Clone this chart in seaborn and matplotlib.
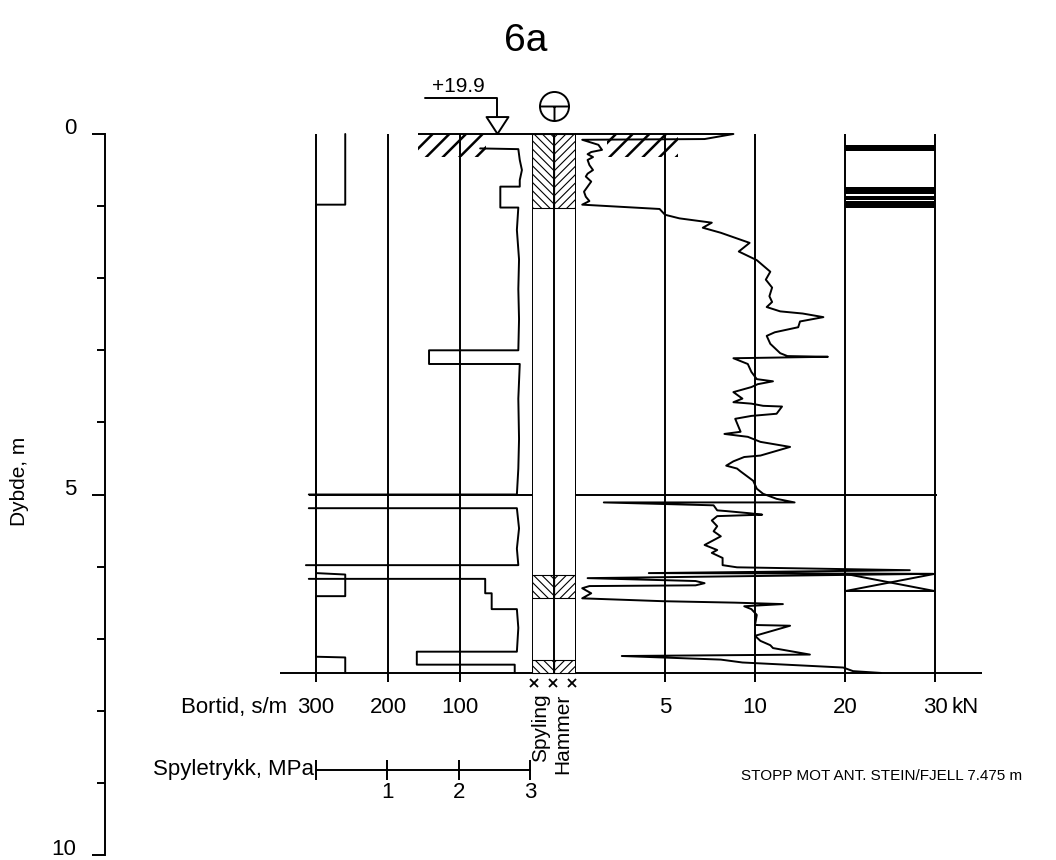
import numpy as np
import pandas as pd
import matplotlib
matplotlib.use("Agg")
import matplotlib.pyplot as plt
from matplotlib.path import Path
import seaborn as sns

# ---------------- data ----------------
title = "6a"
depth_major = [0, 5, 10]
depth_minor = [1, 2, 3, 4, 6, 7, 8, 9]
stop_depth = 7.475
stop_text = "STOPP MOT ANT. STEIN/FJELL 7.475 m"
ground_level_text = "+19.9"

bortid_grid = [300, 200, 100]
bortid_labels = ["300", "200", "100"]
kn_grid = [5, 10, 20, 30]
kn_labels = ["5", "10", "20", "30"]
pressure_ticks = [0, 1, 2, 3]
pressure_labels = ["", "1", "2", "3"]

# push force (kN) against depth (m)
kn_depth = [0.00, 0.07, 0.08, 0.15, 0.22, 0.25, 0.28, 0.32, 0.36, 0.43, 0.50,
            0.55, 0.59, 0.66, 0.73, 0.80, 0.87, 0.93, 0.98,
            1.04, 1.12, 1.17, 1.23, 1.30, 1.37, 1.51, 1.63, 1.75, 1.91, 2.02,
            2.13, 2.25, 2.33, 2.40, 2.46, 2.49, 2.54, 2.60, 2.68, 2.75, 2.80,
            2.91, 3.04, 3.08, 3.09, 3.11, 3.19, 3.30, 3.40, 3.43, 3.47, 3.51,
            3.58, 3.67, 3.72, 3.74, 3.77, 3.78, 3.88, 3.91, 3.95, 4.13, 4.16,
            4.20, 4.27, 4.34, 4.46, 4.48, 4.54, 4.60, 4.64, 4.68, 4.81, 4.92,
            4.99, 5.06, 5.11, 5.11, 5.15, 5.22, 5.23, 5.26, 5.28, 5.30, 5.36,
            5.44, 5.51, 5.58, 5.70, 5.77, 5.81, 5.88, 5.98, 6.01, 6.05, 6.09,
            6.10, 6.16, 6.20, 6.23, 6.26, 6.27, 6.30, 6.37, 6.44, 6.48, 6.50,
            6.52, 6.55, 6.59, 6.67, 6.81, 6.82, 6.96, 7.03, 7.09, 7.13, 7.22,
            7.24, 7.29, 7.33, 7.40, 7.45, 7.475]
kn_force = [8.8, 7.2, 0.4, 1.3, 1.5, 0.9, 0.7, 1.0, 0.7, 0.8, 1.0,
            0.7, 0.6, 0.9, 0.7, 0.5, 0.6, 0.8, 0.4,
            4.7, 5.0, 5.8, 7.6, 7.1, 8.1, 9.7, 9.1, 10.2, 11.7, 11.2,
            11.9, 11.6, 11.9, 11.3, 12.8, 15.3, 17.6, 15.0, 14.8, 12.2, 11.3,
            11.7, 12.8, 13.6, 18.1, 8.8, 9.6, 9.8, 10.2, 12.0, 10.3, 9.8,
            8.8, 9.3, 8.8, 9.8, 10.9, 13.0, 12.4, 9.8, 8.9, 9.2, 8.3,
            9.6, 10.6, 13.9, 10.6, 9.4, 8.8, 8.4, 9.0, 9.2, 9.9, 10.2,
            10.9, 12.4, 14.4, 1.6, 7.7, 7.9, 8.4, 9.7, 10.8, 7.9, 7.6,
            7.9, 7.7, 8.1, 7.2, 7.9, 7.6, 8.2, 8.2, 9.0, 27.2, 4.1,
            29.8, 0.7, 6.7, 7.2, 6.7, 0.8, 0.4, 0.9, 0.4, 4.9, 8.9,
            13.1, 9.4, 9.8, 10.2, 10.0, 13.9, 10.0, 10.6, 11.7, 12.0, 16.1,
            2.6, 8.1, 9.3, 19.8, 20.9, 24.0]

# drilling time (s/m) against depth (m); segments split where off scale
bortid_depth = [0.20, 0.21, 0.36, 0.50, 0.64, 0.73, 0.73, 1.02, 1.02, 1.33,
                1.74, 2.15, 2.57, 3.00, 3.00, 3.19, 3.19, 3.67, 4.23, 4.64,
                5.00, 5.00,
                5.19, 5.19, 5.47, 5.75, 5.98, 5.98,
                6.17, 6.17, 6.37, 6.37, 6.59, 6.59, 6.85, 7.18, 7.18, 7.36,
                7.36, 7.475]
bortid_value = [72, 19, 17, 14, 17, 17, 44, 44, 19, 21,
                18, 19, 18, 19, 143, 143, 17, 19, 18, 19,
                21, 310,
                310, 21, 18, 21, 19, 314,
                310, 65, 65, 56, 56, 21, 19, 21, 160, 160,
                24, 24]
bortid_segment = [1] * 22 + [2] * 6 + [3] * 12

# flushing pressure (MPa) against depth (m)
pressure_depth = [0.0, 0.98, 0.98, 6.09, 6.11, 6.41, 6.41, 7.25, 7.26, 7.475]
pressure_value = [0.41, 0.41, 0.0, 0.0, 0.41, 0.41, 0.0, 0.0, 0.41, 0.41]

flush_hammer_intervals = [(0.0, 1.02), (6.12, 6.44), (7.29, 7.475)]
rotation_bars = [(0.15, 0.24), (0.74, 0.83), (0.86, 0.91), (0.93, 1.03)]
cross_box = (6.10, 6.34)
marker_line_depth = 5.0

# ---------------- style ----------------
sns.set_theme(style="white")
plt.rcParams["font.family"] = ["Liberation Sans", "DejaVu Sans"]
plt.rcParams["text.color"] = "black"
plt.rcParams["xtick.color"] = "black"
plt.rcParams["ytick.color"] = "black"

LW = 1.4
K = "black"
W, H = 1056, 860
fig = plt.figure(figsize=(W / 100, H / 100), dpi=100)
fig.patch.set_facecolor("white")


def box(x0, x1, y0=134, y1=855):
    return [x0 / W, 1 - y1 / H, (x1 - x0) / W, (y1 - y0) / H]


ax_d = fig.add_axes(box(105, 990))
ax_bt = fig.add_axes(box(316, 532))
ax_pr = fig.add_axes(box(316, 530))
ax_sh = fig.add_axes(box(532, 576))
ax_kn = fig.add_axes(box(575, 935))
ax_pa = fig.add_axes([316 / W, 1 - 770 / H, 214 / W, 0.0005])

for ax in (ax_d, ax_bt, ax_pr, ax_sh, ax_kn):
    ax.set_ylim(10, 0)
    ax.patch.set_alpha(0)

# depth axis
ax_d.set_xlim(0, 1)
for s in ("top", "right", "bottom"):
    ax_d.spines[s].set_visible(False)
ax_d.spines["left"].set_linewidth(LW)
ax_d.spines["left"].set_color(K)
ax_d.set_xticks([])
ax_d.set_yticks(depth_major)
ax_d.set_yticklabels([str(v) for v in depth_major], va="baseline")
ax_d.set_yticks(depth_minor, minor=True)
ax_d.tick_params(axis="y", which="major", direction="out", length=9.5,
                 width=LW, pad=11, labelsize=16, left=True)
ax_d.tick_params(axis="y", which="minor", direction="out", length=6,
                 width=LW, left=True)
fig.text(20 / W, 1 - 481 / H, "Dybde, m", rotation=90, ha="center",
         va="center", fontsize=15)

# kN axis: 0-10 linear, 10-30 at half scale
def fwd(v):
    v = np.asarray(v, dtype=float)
    return np.where(v <= 10, v, 10 + (v - 10) / 2)


def inv(u):
    u = np.asarray(u, dtype=float)
    return np.where(u <= 10, u, 10 + (u - 10) * 2)


ax_kn.set_xscale("function", functions=(fwd, inv))

# ---------------- traces ----------------
df_kn = pd.DataFrame({"depth": kn_depth, "kN": kn_force})
sns.lineplot(data=df_kn, x="kN", y="depth", sort=False, estimator=None,
             color=K, lw=LW, ax=ax_kn)

df_bt = pd.DataFrame({"depth": bortid_depth, "bortid": bortid_value,
                      "seg": bortid_segment})
sns.lineplot(data=df_bt, x="bortid", y="depth", units="seg", sort=False,
             estimator=None, color=K, lw=LW, ax=ax_bt)

df_pr = pd.DataFrame({"depth": pressure_depth, "p": pressure_value})
sns.lineplot(data=df_pr, x="p", y="depth", sort=False, estimator=None,
             color=K, lw=LW, ax=ax_pr)

ax_bt.set_xlim(300, 0)
ax_pr.set_xlim(0, 3)
ax_sh.set_xlim(0, 2)
ax_kn.set_xlim(0, 30)
for ax in (ax_bt, ax_pr, ax_sh, ax_kn):
    ax.set_ylim(10, 0)
    for ln in ax.lines:
        ln.set_clip_on(False)

# ---------------- grid and frames ----------------
ax_bt.vlines(bortid_grid, 0, 7.6, color=K, lw=LW, clip_on=False)
ax_sh.vlines([0, 1, 2], 0, stop_depth, color=K, lw=LW)
ax_kn.vlines([0], 0, stop_depth, color=K, lw=LW)
ax_kn.vlines(kn_grid, 0, 7.6, color=K, lw=LW, clip_on=False)

# ground surface
ax_bt.hlines(0, 158, 0, color=K, lw=LW, clip_on=False)
ax_sh.hlines(0, 0, 2, color=K, lw=LW, clip_on=False)
ax_kn.hlines(0, 0, kn_force[0], color=K, lw=LW, clip_on=False)
with plt.rc_context({"hatch.linewidth": 1.8}):
    ax_bt.fill_betweenx([0, 0.32], 158, 64, facecolor="none", edgecolor=K,
                        hatch="//", lw=0)
    ax_kn.fill_betweenx([0, 0.32], 1.8, 5.7, facecolor="none", edgecolor=K,
                        hatch="//", lw=0)

# flushing / hammering columns
with plt.rc_context({"hatch.linewidth": 0.8}):
    for top, bot in flush_hammer_intervals:
        ax_sh.fill_betweenx([top, bot], 0, 1, facecolor="none", edgecolor=K,
                            hatch="\\\\\\\\", lw=0.8)
        ax_sh.fill_betweenx([top, bot], 1, 2, facecolor="none", edgecolor=K,
                            hatch="////", lw=0.8)
ax_sh.plot([0.1, 0.95, 1.8], [7.61] * 3, ls="none", marker="x", ms=6,
           mew=1.3, color=K, clip_on=False)

# rotation column bars and cross box
for top, bot in rotation_bars:
    ax_kn.fill_betweenx([top, bot], 20, 30, color=K, lw=0)
ct, cb = cross_box
ax_kn.plot([20, 30, 30, 20, 20], [ct, ct, cb, cb, ct], color=K, lw=LW)
ax_kn.plot([20, 30], [ct, cb], color=K, lw=LW)
ax_kn.plot([20, 30], [cb, ct], color=K, lw=LW)

# marker line and stop line
ax_bt.hlines(marker_line_depth, 310, 0, color=K, lw=LW, clip_on=False)
ax_kn.hlines(marker_line_depth, 0, 30.2, color=K, lw=LW, clip_on=False)
ax_bt.hlines(stop_depth, 350, 0, color=K, lw=LW, clip_on=False)
ax_kn.hlines(stop_depth, 0, 35.2, color=K, lw=LW, clip_on=False)

# ground level symbol
tri = Path([(-1, 0.77), (1, 0.77), (0, -0.77), (-1, 0.77)],
           [Path.MOVETO, Path.LINETO, Path.LINETO, Path.CLOSEPOLY])
ax_bt.plot([48.6], [-0.118], marker=tri, ms=15.8, mfc="white", mec=K,
           mew=LW, clip_on=False)
ax_bt.plot([148.6, 48.6, 48.6], [-0.50, -0.50, -0.236], color=K, lw=LW,
           clip_on=False)
ax_bt.text(102, -0.53, ground_level_text, ha="center", va="bottom",
           fontsize=15)

# sounding type symbol
tsym = Path.make_compound_path(Path.unit_circle(),
                               Path([(-1, 0), (1, 0)]),
                               Path([(0, 0), (0, -1)]))
ax_sh.plot([1.0], [-0.39], marker=tsym, ms=20.9, mfc="none", mec=K,
           mew=LW, clip_on=False)

# ---------------- labels ----------------
lab_d = 7.95
for v, t in zip(bortid_grid, bortid_labels):
    ax_bt.text(v, lab_d, t, ha="center", va="center", fontsize=16)
ax_bt.text(340, lab_d, "Bortid, s/m", ha="right", va="center", fontsize=16)
for v, t in zip(kn_grid, kn_labels):
    ax_kn.text(v, lab_d, t, ha="center", va="center", fontsize=16)
ax_kn.text(33.4, lab_d, "kN", ha="center", va="center", fontsize=16)
ax_sh.text(0.41, 7.76, "Spyling", rotation=90, ha="center", va="top",
           fontsize=15)
ax_sh.text(1.41, 7.76, "Hammer", rotation=90, ha="center", va="top",
           fontsize=15)
ax_kn.text(24.1, 8.9, stop_text, ha="center", va="center", fontsize=11)

# flushing pressure scale
ax_pa.set_xlim(0, 3)
ax_pa.set_ylim(0, 1)
for s in ("top", "right", "left"):
    ax_pa.spines[s].set_visible(False)
ax_pa.spines["bottom"].set_linewidth(LW)
ax_pa.spines["bottom"].set_color(K)
ax_pa.patch.set_alpha(0)
ax_pa.set_yticks([])
ax_pa.set_xticks(pressure_ticks)
ax_pa.set_xticklabels(pressure_labels)
ax_pa.tick_params(axis="x", direction="inout", length=14, width=LW,
                  pad=2, labelsize=16, bottom=True)
ax_pa.text(-0.03, 0, "Spyletrykk, MPa", ha="right", va="center",
           fontsize=16, transform=ax_pa.get_xaxis_transform())

for ax in (ax_bt, ax_pr, ax_sh, ax_kn):
    ax.set_axis_off()

fig.text(526 / W, 1 - 41 / H, title, ha="center", va="center", fontsize=28)

fig.savefig("out.png", dpi=100, facecolor="white")
